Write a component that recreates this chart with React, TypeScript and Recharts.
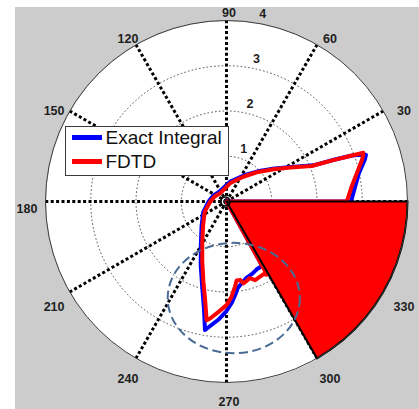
import React from 'react';
import {
  RadarChart,
  Radar,
  PolarGrid,
  PolarAngleAxis,
  PolarRadiusAxis,
  Legend,
} from 'recharts';

// Far-field pattern, r(theta) with theta in degrees (counter-clockwise from east)
const CURVE_THETA = [
  0, 2, 7, 12, 17, 18.5, 19.6, 20.2, 21.2, 22.6, 28, 34.5, 44, 56, 79, 128, 155,
  181, 205, 225, 239, 248, 254, 258, 260.5, 262, 266, 270, 273, 275.7, 277.3, 280,
  281.6, 284.3, 287, 290, 294, 297, 299,
];
const EXACT = [
  2.76, 2.78, 2.87, 2.99, 3.2, 3.25, 3.06, 2.93, 2.57, 2.08, 1.63, 1.29, 0.96, 0.7,
  0.45, 0.27, 0.32, 0.4, 0.57, 0.78, 1.1, 1.52, 1.95, 2.4, 2.88, 2.8, 2.62, 2.42,
  2.24, 2.05, 1.93, 1.85, 1.81, 1.75, 1.72, 1.69, 1.64, 1.63, 1.62,
];
const FDTD = [
  2.66, 2.69, 2.79, 2.94, 3.13, 3.18, 3.21, 2.91, 2.53, 2.04, 1.6, 1.26, 0.93, 0.66,
  0.41, 0.23, 0.28, 0.36, 0.53, 0.73, 1.04, 1.43, 1.85, 2.26, 2.66, 2.61, 2.44, 2.29,
  2.11, 1.89, 1.76, 1.76, 1.85, 1.81, 1.77, 1.85, 1.82, 1.8, 1.85,
];

// Filled sector from 300 to 360 degrees
const SECTOR_THETA = [300, 305, 310, 315, 320, 325, 330, 335, 340, 345, 350, 355, 360];
const SECTOR_RADIUS = 4;

const ANGLE_TICKS = [0, 30, 60, 90, 120, 150, 180, 210, 240, 270, 300, 330];
const RADIUS_TICKS = [0, 1, 2, 3, 4];
const RING_VALUES = [1, 2, 3];
const R_MAX = 4;

// Dashed highlight ring around the lower lobe (polar data units)
const HIGHLIGHT = { theta: 274.3, r: 2.14, rx: 1.46, ry: 1.22 };

const W = 419;
const H = 409;
const CX = 226.5;
const CY = 201.5;
const OUTER = 181;
const FONT = '"Liberation Sans", Arial, Helvetica, sans-serif';

const rows = [
  ...CURVE_THETA.map((t, i) => ({ theta: t, exact: EXACT[i], fdtd: FDTD[i], sector: 0 })),
  ...SECTOR_THETA.map((t) => ({ theta: t, exact: null, fdtd: null, sector: SECTOR_RADIUS })),
];

const toPx = (v: number) => (v * OUTER) / R_MAX;

const polarPoint = (thetaDeg: number, r: number) => {
  const a = (thetaDeg * Math.PI) / 180;
  return { x: CX + toPx(r) * Math.cos(a), y: CY - toPx(r) * Math.sin(a) };
};

const AngleTick = (props: any) => {
  const v = props?.payload?.value;
  if (v === undefined || v === 0 || v === 360) return null;
  const a = (v * Math.PI) / 180;
  const x = CX + 2.5 + 202 * Math.cos(a);
  const y = Math.min(CY + 7.5 - 196 * Math.sin(a), H - 7.5);
  return (
    <text
      x={x}
      y={y}
      textAnchor="middle"
      dominantBaseline="central"
      fontFamily={FONT}
      fontWeight="bold"
      fontSize={12.5}
      fill="#1e1e1e"
    >
      {v}
    </text>
  );
};

const RadiusTick = (props: any) => {
  const v = props?.payload?.value;
  if (!v) return null;
  return (
    <text
      x={props.x + 11}
      y={props.y - 8}
      textAnchor="middle"
      dominantBaseline="central"
      fontFamily={FONT}
      fontWeight="bold"
      fontSize={12.5}
      fill="#1e1e1e"
    >
      {v}
    </text>
  );
};

const LegendBox = (props: any) => {
  const items = (props.payload || []).filter((p: any) => p.type !== 'none');
  return (
    <div
      style={{
        position: 'relative',
        width: 164,
        height: 50,
        boxSizing: 'border-box',
        border: '1.5px solid #3a3a3a',
        background: '#ffffff',
        fontFamily: FONT,
        fontSize: 19,
        color: '#111',
      }}
    >
      {items.map((p: any, i: number) => (
        <div
          key={p.value}
          style={{
            position: 'absolute',
            left: 5.5,
            top: -1.5 + i * 24,
            height: 24,
            display: 'flex',
            alignItems: 'center',
            whiteSpace: 'nowrap',
          }}
        >
          <span
            style={{
              display: 'inline-block',
              width: 30,
              height: 4.5,
              background: p.color,
              marginRight: 4,
            }}
          />
          <span>{p.value}</span>
        </div>
      ))}
    </div>
  );
};

export default function App() {
  const c = polarPoint(HIGHLIGHT.theta, HIGHLIGHT.r);
  return (
    <div
      style={{
        position: 'fixed',
        left: 0,
        top: 0,
        width: W,
        height: H,
        background: '#ffffff',
        overflow: 'hidden',
      }}
    >
      <div
        style={{ position: 'absolute', left: 15, top: 7, right: 0, bottom: 0, background: '#cccccc' }}
      />
      <div
        style={{
          position: 'absolute',
          left: CX - OUTER,
          top: CY - OUTER,
          width: OUTER * 2,
          height: OUTER * 2,
          borderRadius: '50%',
          background: '#ffffff',
        }}
      />
      <div style={{ position: 'absolute', left: 0, top: 0 }}>
        <RadarChart
          width={W}
          height={H}
          data={rows}
          cx={CX}
          cy={CY}
          outerRadius={OUTER}
          startAngle={0}
          endAngle={360}
          margin={{ top: 0, right: 0, bottom: 0, left: 0 }}
        >
          <PolarGrid
            gridType="circle"
            radialLines={false}
            polarAngles={ANGLE_TICKS}
            polarRadius={RING_VALUES.map(toPx)}
            stroke="#3c3c3c"
            strokeWidth={0.9}
            strokeDasharray="1.6 2.2"
          />
          <PolarGrid
            gridType="circle"
            polarAngles={ANGLE_TICKS}
            polarRadius={[]}
            stroke="#000000"
            strokeWidth={3}
            strokeDasharray="3 2.4"
          />
          <PolarAngleAxis
            dataKey="theta"
            type="number"
            domain={[0, 360]}
            ticks={ANGLE_TICKS as any}
            axisLineType="circle"
            axisLine={{ stroke: '#3a3a3a', strokeWidth: 1 }}
            tickLine={false}
            tick={AngleTick}
          />
          <PolarRadiusAxis
            angle={82}
            type="number"
            domain={[0, R_MAX]}
            ticks={RADIUS_TICKS as any}
            tickCount={5}
            axisLine={false}
            tick={RadiusTick}
          />
          <Radar
            name="Exact Integral"
            dataKey="exact"
            stroke="#0000ff"
            strokeWidth={4}
            strokeLinejoin="round"
            fill="none"
            fillOpacity={0}
            isAnimationActive={false}
          />
          <Radar
            name="FDTD"
            dataKey="fdtd"
            stroke="#ff0000"
            strokeWidth={4}
            strokeLinejoin="round"
            fill="none"
            fillOpacity={0}
            isAnimationActive={false}
          />
          <Radar
            name="sector"
            dataKey="sector"
            stroke="#000000"
            strokeWidth={2}
            fill="#ff0000"
            fillOpacity={1}
            legendType="none"
            isAnimationActive={false}
          />
          <Legend
            layout="horizontal"
            verticalAlign="middle"
            align="center"
            wrapperStyle={{ left: 65, top: 126, width: 164 }}
            content={LegendBox}
          />
        </RadarChart>
      </div>
      <svg
        width={W}
        height={H}
        style={{ position: 'absolute', left: 0, top: 0, pointerEvents: 'none' }}
      >
        <ellipse
          cx={c.x}
          cy={c.y}
          rx={toPx(HIGHLIGHT.rx)}
          ry={toPx(HIGHLIGHT.ry)}
          fill="none"
          stroke="#4a6b96"
          strokeWidth={2}
          strokeDasharray="9 4.5"
        />
        <circle cx={CX - 1} cy={CY} r={4.5} fill="none" stroke="#000" strokeWidth={1.5} />
      </svg>
    </div>
  );
}
